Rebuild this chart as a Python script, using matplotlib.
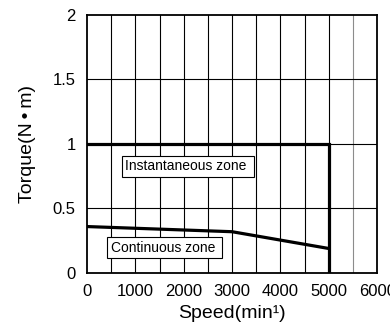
import matplotlib.pyplot as plt

plt.rcParams['font.family'] = ['Liberation Sans', 'DejaVu Sans']

# speed-torque curve data
inst_speed = [0, 5000, 5000]
inst_torque = [1.0, 1.0, 0.0]
cont_speed = [0, 3000, 5000]
cont_torque = [0.36, 0.32, 0.19]

xticks = [0, 1000, 2000, 3000, 4000, 5000, 6000]
yticks = [0, 0.5, 1, 1.5, 2]
ytick_labels = ['0', '0.5', '1', '1.5', '2']

fig = plt.figure(figsize=(3.9, 3.36), dpi=100)
ax = fig.add_axes([0.223, 0.1875, 0.744, 0.768])

# grid: vertical every 500, horizontal every 0.5
for xv in range(500, 6000, 500):
    col = '0.55' if xv == 5500 else 'black'
    ax.axvline(xv, color=col, lw=0.8, zorder=1)
for yv in [0.5, 1.0, 1.5]:
    ax.axhline(yv, color='black', lw=0.8, zorder=1)

ax.plot(inst_speed, inst_torque, color='black', lw=2.3, solid_joinstyle='miter', zorder=3)
ax.plot(cont_speed, cont_torque, color='black', lw=2.3, zorder=3)

box = dict(boxstyle='square,pad=0.25', fc='white', ec='black', lw=0.8)
ax.text(790, 0.827, 'Instantaneous zone ', fontsize=10, va='center', ha='left', bbox=box, zorder=4)
ax.text(490, 0.195, 'Continuous zone ', fontsize=10, va='center', ha='left', bbox=box, zorder=4)

ax.set_xlim(0, 6000)
ax.set_ylim(0, 2)
ax.set_xticks(xticks)
ax.set_yticks(yticks)
ax.set_yticklabels(ytick_labels)
ax.tick_params(length=0, labelsize=12, pad=8)
for s in ax.spines.values():
    s.set_linewidth(1.3)

ax.set_xlabel('Speed(min\u00b9)', fontsize=14, labelpad=4)
ax.set_ylabel('Torque(N\u2009\u2022\u2009m)', fontsize=14, labelpad=12)

fig.savefig('out.png', dpi=100)
